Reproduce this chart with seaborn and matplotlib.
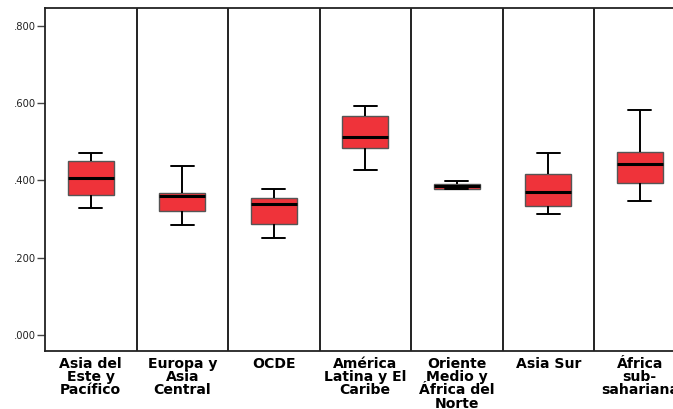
import matplotlib
matplotlib.use("Agg")
import matplotlib.pyplot as plt
import matplotlib.transforms as mtransforms
import seaborn as sns
import pandas as pd
from matplotlib.ticker import FuncFormatter

# Region labels (x categories)
regions = [
    "Asia del\nEste y\nPacífico",
    "Europa y\nAsia\nCentral",
    "OCDE",
    "América\nLatina y El\nCaribe",
    "Oriente\nMedio y\nÁfrica del\nNorte",
    "Asia Sur",
    "África\nsub-\nsahariana",
]

# Five-number summaries
whisker_low = [0.328, 0.284, 0.251, 0.428, 0.377, 0.312, 0.347]
q1          = [0.363, 0.321, 0.288, 0.484, 0.378, 0.334, 0.394]
median      = [0.406, 0.359, 0.338, 0.513, 0.386, 0.369, 0.442]
q3          = [0.450, 0.368, 0.354, 0.568, 0.390, 0.417, 0.474]
whisker_high = [0.470, 0.438, 0.377, 0.593, 0.399, 0.472, 0.582]

y_ticks = [0.0, 0.2, 0.4, 0.6, 0.8]

rows = []
for i, r in enumerate(regions):
    for v in (whisker_low[i], q1[i], median[i], q3[i], whisker_high[i]):
        rows.append({"region": r, "value": v})
df = pd.DataFrame(rows)

sns.set_theme(style="white")
plt.rcParams["font.family"] = ["DejaVu Sans"]

fig = plt.figure(figsize=(6.73, 4.09), dpi=100)
W, H = 673, 409
ax = fig.add_axes([45 / W, 1 - 351 / H, 640.5 / W, 343 / H])

sns.boxplot(
    data=df, x="region", y="value", order=regions, ax=ax,
    whis=(0, 100), width=0.5, color="#EF333A", saturation=1,
    linecolor="black", linewidth=1.4, fliersize=0,
    medianprops={"color": "black", "linewidth": 2.2},
    boxprops={"edgecolor": "#555555", "linewidth": 1.0},
)

for x in range(len(regions) - 1):
    ax.axvline(x + 0.5, color="#222222", linewidth=1.4, zorder=0)

ax.set_xlim(-0.5, len(regions) - 0.5)
ax.set_ylim(-0.041, 0.846)
ax.set_yticks(y_ticks)
ax.yaxis.set_major_formatter(FuncFormatter(lambda v, p: f"{v:.3f}".lstrip("0") if v >= 0 else f"{v:.3f}"))
ax.tick_params(axis="y", which="major", left=True, length=6, width=1, color="#444444",
               labelsize=7.2, pad=0.5, labelcolor="#222222")
ax.tick_params(axis="x", bottom=False, labelbottom=False)

# Category labels: each line placed on a common baseline grid
trans = mtransforms.blended_transform_factory(ax.transData, ax.transAxes)
px = 72 / 100
for i, lab in enumerate(regions):
    for k, line in enumerate(lab.split("\n")):
        ax.annotate(line, xy=(i, 0), xycoords=trans,
                    xytext=(0, -(17.3 + k * 13.1) * px), textcoords="offset points",
                    ha="center", va="baseline", fontsize=10.1, fontweight="bold",
                    color="black", annotation_clip=False)

ax.set_xlabel("")
ax.set_ylabel("")
for side in ["left", "top", "bottom"]:
    ax.spines[side].set_visible(True)
    ax.spines[side].set_color("#222222")
    ax.spines[side].set_linewidth(1.3)
ax.spines["right"].set_visible(False)

fig.savefig("out.png", dpi=100)
